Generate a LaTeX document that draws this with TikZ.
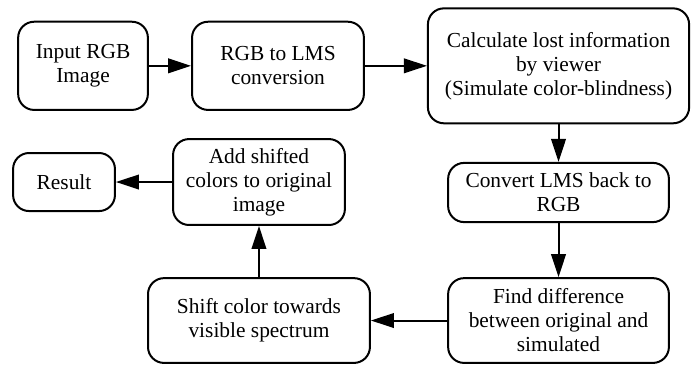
\documentclass[tikz,border=0pt]{standalone}
\usepackage{fontspec}
\setmainfont{LiberationSerif}[Extension=.ttf, UprightFont=*-Regular,
  BoldFont=*-Bold, ItalicFont=*-Italic, BoldItalicFont=*-BoldItalic]
\usetikzlibrary{arrows.meta}

\begin{document}
\begin{tikzpicture}[
          box/.style={draw, line width=1pt, rounded corners=8pt, align=center,
                      inner sep=0pt, font=\rmfamily\fontsize{10.7}{12}\selectfont},
          arr/.style={-{Triangle[length=11.5pt, width=7.3pt]}, line width=1pt}
        ]
        \useasboundingbox (0, 0) rectangle (12.196, 6.397);

        % top row
        \node[box, minimum width=2.28cm, minimum height=1.55cm] (inp) at (1.459, 5.24)
              {Input RGB\\Image};
        \node[box, minimum width=3.02cm, minimum height=1.55cm] (lms) at (4.885, 5.24)
              {RGB to LMS\\conversion};
        \node[box, minimum width=4.59cm, minimum height=2.02cm] (sim) at (9.815, 5.24)
              {Calculate lost information\\by viewer\\(Simulate color-blindness)};

        % right column
        \node[box, minimum width=3.88cm, minimum height=1.04cm] (back) at (9.815, 3.014)
              {Convert LMS back to\\RGB};
        \node[box, minimum width=3.88cm, minimum height=1.49cm] (diff) at (9.815, 0.764)
              {Find difference\\between original and\\simulated};

        % back towards the left
        \node[box, minimum width=3.90cm, minimum height=1.49cm] (shift) at (4.551, 0.764)
              {Shift color towards\\visible spectrum};
        \node[box, minimum width=3.02cm, minimum height=1.51cm] (add) at (4.551, 3.198)
              {Add shifted\\colors to original\\image};
        \node[box, minimum width=1.79cm, minimum height=1.02cm] (result) at (1.125, 3.198)
              {Result};

        \foreach \a/\b in {inp/lms, lms/sim, sim/back, back/diff,
                           diff/shift, shift/add, add/result} {
          \draw[arr] (\a)--(\b);
        }
      \end{tikzpicture}
\end{document}
